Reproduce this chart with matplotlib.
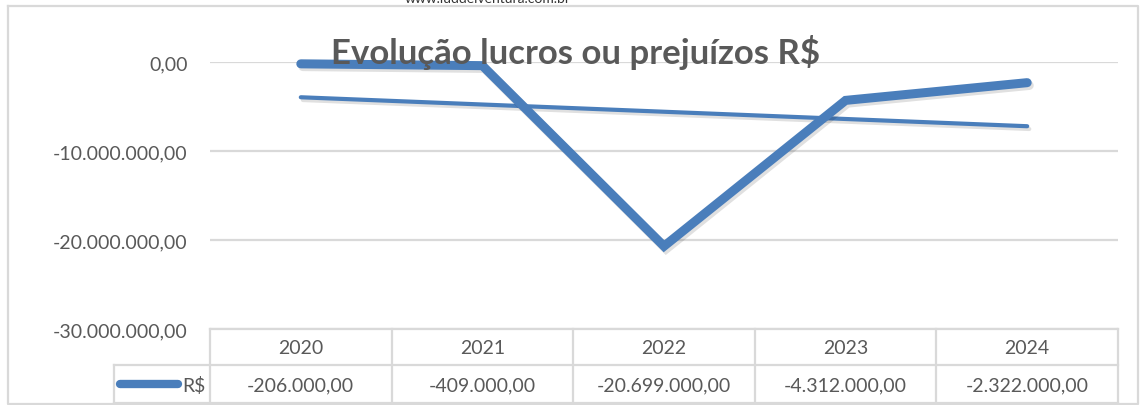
import matplotlib.pyplot as plt
import matplotlib.patheffects as pe
from matplotlib.transforms import blended_transform_factory
import numpy as np

plt.rcParams['font.family'] = ['Lato', 'DejaVu Sans']

# data
years = ['2020', '2021', '2022', '2023', '2024']
values = [-206000, -409000, -20699000, -4312000, -2322000]
y_ticks = [0, -10000000, -20000000, -30000000]

title = 'Evolução lucros ou prejuízos R$'
series_name = 'R$'
site = 'www.iuddeiventura.com.br'

blue = '#4a7ebb'
grid_c = '#d9d9d9'
text_c = '#595959'


def brl(v):
    s = f'{abs(v):,.2f}'.replace(',', 'X').replace('.', ',').replace('X', '.')
    return ('-' if v < 0 else '') + s


W, H = 1140, 406
fig = plt.figure(figsize=(W / 100, H / 100), dpi=100)

# overlay in pixel coords for the frame / table
ov = fig.add_axes([0, 0, 1, 1])
ov.set_xlim(0, W)
ov.set_ylim(H, 0)
ov.axis('off')

# plot area
left, right, top, bottom = 210, 1118, 63, 330
ax = fig.add_axes([left / W, 1 - bottom / H, (right - left) / W, (bottom - top) / H])
ax.set_zorder(2)
ax.patch.set_alpha(0)
x = np.arange(len(years))
ax.set_xlim(-0.5, len(years) - 0.5)
ax.set_ylim(-30000000, 0)
ax.set_yticks(y_ticks)
ax.set_yticklabels([brl(v) for v in y_ticks], fontsize=14, color=text_c)
ax.tick_params(axis='y', length=0, pad=16)
ax.set_xticks([])
for s in ax.spines.values():
    s.set_visible(False)
ax.grid(axis='y', color=grid_c, lw=1.6)
ax.set_axisbelow(True)

shadow = [pe.SimpleLineShadow(offset=(1.5, -2), shadow_color='#000000', alpha=0.12), pe.Normal()]

# linear trend
k, b = np.polyfit(x, values, 1)
ax.plot(x, k * x + b, color=blue, lw=3, solid_capstyle='round', clip_on=False,
        path_effects=shadow)
ax.plot(x, values, color=blue, lw=6.5, solid_joinstyle='miter', solid_capstyle='round',
        clip_on=False, path_effects=shadow, zorder=3)

# title and site text
fig.text(576 / W, 1 - 53 / H, title, ha='center', va='center', fontsize=25,
         fontweight='bold', color=text_c, zorder=5)
fig.text(488 / W, 1 - 3 / H, site, ha='center', va='baseline', fontsize=10, color='#333333')

# outer frame
ov.plot([8, 1138, 1138, 8, 8], [7, 7, 405, 405, 7], color=grid_c, lw=1.6)

# data table
bt = blended_transform_factory(ax.transData, ov.transData)
edges = np.arange(len(years) + 1) - 0.5
r0, r1, r2 = 330, 366, 404
ov.plot([left, right], [r0, r0], color=grid_c, lw=1.6)
ov.plot([114, right], [r1, r1], color=grid_c, lw=1.6)
ov.plot([114, right], [r2, r2], color=grid_c, lw=1.6)
ov.plot([114, 114], [r1, r2], color=grid_c, lw=1.6)
for e in edges:
    ov.plot([e, e], [r0, r2], color=grid_c, lw=1.6, transform=bt)
for i, (yr, v) in enumerate(zip(years, values)):
    ov.text(i, (r0 + r1) / 2 + 1, yr, ha='center', va='center', fontsize=14, color=text_c, transform=bt)
    ov.text(i, (r1 + r2) / 2 + 1, brl(v), ha='center', va='center', fontsize=14, color=text_c, transform=bt)

# legend key
ov.plot([120, 178], [385, 385], color=blue, lw=6, solid_capstyle='round')
ov.text(206, 386, series_name, ha='right', va='center', fontsize=14, color=text_c)

fig.savefig('out.png', dpi=100)
